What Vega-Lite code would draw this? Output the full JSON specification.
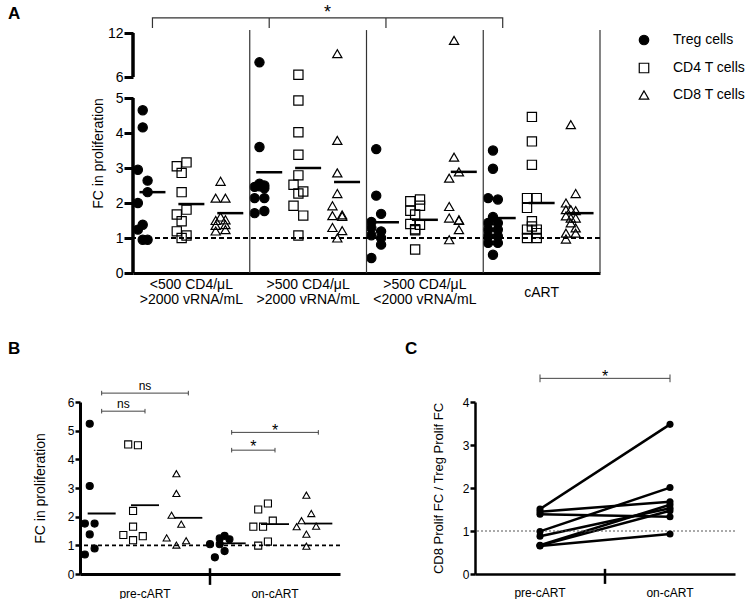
{
  "$schema": "https://vega.github.io/schema/vega-lite/v6.json",
  "background": "white",
  "padding": {"left": 8, "top": 3, "right": 0, "bottom": 0},
  "config": {
    "font": "Liberation Sans",
    "view": {"stroke": null},
    "axis": {"grid": false, "labelColor": "black", "titleColor": "black", "domainColor": "black", "tickColor": "black", "titleFontWeight": "normal", "labelFont": "Liberation Sans", "titleFont": "Liberation Sans", "labelOverlap": false},
    "legend": {"labelFont": "Liberation Sans", "labelColor": "black"},
    "title": {"font": "Liberation Sans", "color": "black"}
  },
  "resolve": {"scale": {"shape": "independent", "fill": "independent", "stroke": "independent"}, "legend": {"shape": "independent", "fill": "independent", "stroke": "independent"}},
  "datasets": {
    "pointsA": [
      {"slot": "G1 Treg", "cell": "Treg cells", "lane": 0, "v": 4.65},
      {"slot": "G1 Treg", "cell": "Treg cells", "lane": 0, "v": 4.16},
      {"slot": "G1 Treg", "cell": "Treg cells", "lane": -1, "v": 2.95},
      {"slot": "G1 Treg", "cell": "Treg cells", "lane": 1, "v": 2.64},
      {"slot": "G1 Treg", "cell": "Treg cells", "lane": 1, "v": 2.31},
      {"slot": "G1 Treg", "cell": "Treg cells", "lane": -1, "v": 2.0},
      {"slot": "G1 Treg", "cell": "Treg cells", "lane": 0, "v": 1.38},
      {"slot": "G1 Treg", "cell": "Treg cells", "lane": -1, "v": 1.24},
      {"slot": "G1 Treg", "cell": "Treg cells", "lane": 0, "v": 0.95},
      {"slot": "G1 Treg", "cell": "Treg cells", "lane": 1, "v": 0.95},
      {"slot": "G1 CD4", "cell": "CD4 T cells", "lane": -1, "v": 3.05},
      {"slot": "G1 CD4", "cell": "CD4 T cells", "lane": 1, "v": 3.16},
      {"slot": "G1 CD4", "cell": "CD4 T cells", "lane": 0, "v": 2.86},
      {"slot": "G1 CD4", "cell": "CD4 T cells", "lane": 0, "v": 2.31},
      {"slot": "G1 CD4", "cell": "CD4 T cells", "lane": 1, "v": 1.81},
      {"slot": "G1 CD4", "cell": "CD4 T cells", "lane": -1, "v": 1.67},
      {"slot": "G1 CD4", "cell": "CD4 T cells", "lane": 0, "v": 1.48},
      {"slot": "G1 CD4", "cell": "CD4 T cells", "lane": -1, "v": 1.19},
      {"slot": "G1 CD4", "cell": "CD4 T cells", "lane": 0, "v": 1.0},
      {"slot": "G1 CD4", "cell": "CD4 T cells", "lane": 1, "v": 1.07},
      {"slot": "G1 CD8", "cell": "CD8 T cells", "lane": 0, "v": 2.62},
      {"slot": "G1 CD8", "cell": "CD8 T cells", "lane": -1, "v": 2.14},
      {"slot": "G1 CD8", "cell": "CD8 T cells", "lane": 1, "v": 2.14},
      {"slot": "G1 CD8", "cell": "CD8 T cells", "lane": 0, "v": 1.6},
      {"slot": "G1 CD8", "cell": "CD8 T cells", "lane": -1, "v": 1.5},
      {"slot": "G1 CD8", "cell": "CD8 T cells", "lane": 1, "v": 1.52},
      {"slot": "G1 CD8", "cell": "CD8 T cells", "lane": -1, "v": 1.36},
      {"slot": "G1 CD8", "cell": "CD8 T cells", "lane": 1, "v": 1.38},
      {"slot": "G1 CD8", "cell": "CD8 T cells", "lane": -1, "v": 1.2},
      {"slot": "G1 CD8", "cell": "CD8 T cells", "lane": 1, "v": 1.24},
      {"slot": "G2 Treg", "cell": "Treg cells", "lane": 0, "v": 8.0},
      {"slot": "G2 Treg", "cell": "Treg cells", "lane": 0, "v": 3.6},
      {"slot": "G2 Treg", "cell": "Treg cells", "lane": -1, "v": 2.46},
      {"slot": "G2 Treg", "cell": "Treg cells", "lane": 0, "v": 2.55},
      {"slot": "G2 Treg", "cell": "Treg cells", "lane": 0, "v": 2.48},
      {"slot": "G2 Treg", "cell": "Treg cells", "lane": 1, "v": 2.5},
      {"slot": "G2 Treg", "cell": "Treg cells", "lane": 1, "v": 2.42},
      {"slot": "G2 Treg", "cell": "Treg cells", "lane": -1, "v": 2.14},
      {"slot": "G2 Treg", "cell": "Treg cells", "lane": 1, "v": 2.14},
      {"slot": "G2 Treg", "cell": "Treg cells", "lane": -1, "v": 1.71},
      {"slot": "G2 Treg", "cell": "Treg cells", "lane": 1, "v": 1.77},
      {"slot": "G2 CD4", "cell": "CD4 T cells", "lane": 0, "v": 6.31},
      {"slot": "G2 CD4", "cell": "CD4 T cells", "lane": 0, "v": 4.93},
      {"slot": "G2 CD4", "cell": "CD4 T cells", "lane": 0, "v": 4.02},
      {"slot": "G2 CD4", "cell": "CD4 T cells", "lane": 0, "v": 3.38},
      {"slot": "G2 CD4", "cell": "CD4 T cells", "lane": 0, "v": 2.79},
      {"slot": "G2 CD4", "cell": "CD4 T cells", "lane": -1, "v": 2.52},
      {"slot": "G2 CD4", "cell": "CD4 T cells", "lane": 1, "v": 2.33},
      {"slot": "G2 CD4", "cell": "CD4 T cells", "lane": 0, "v": 2.27},
      {"slot": "G2 CD4", "cell": "CD4 T cells", "lane": -1, "v": 1.92},
      {"slot": "G2 CD4", "cell": "CD4 T cells", "lane": 1, "v": 1.64},
      {"slot": "G2 CD4", "cell": "CD4 T cells", "lane": 0, "v": 1.07},
      {"slot": "G2 CD8", "cell": "CD8 T cells", "lane": 0, "v": 9.18},
      {"slot": "G2 CD8", "cell": "CD8 T cells", "lane": 0, "v": 3.79},
      {"slot": "G2 CD8", "cell": "CD8 T cells", "lane": 0, "v": 2.86},
      {"slot": "G2 CD8", "cell": "CD8 T cells", "lane": 0, "v": 2.27},
      {"slot": "G2 CD8", "cell": "CD8 T cells", "lane": -1, "v": 1.92},
      {"slot": "G2 CD8", "cell": "CD8 T cells", "lane": -1, "v": 1.64},
      {"slot": "G2 CD8", "cell": "CD8 T cells", "lane": 1, "v": 1.66},
      {"slot": "G2 CD8", "cell": "CD8 T cells", "lane": 1, "v": 1.62},
      {"slot": "G2 CD8", "cell": "CD8 T cells", "lane": -1, "v": 1.3},
      {"slot": "G2 CD8", "cell": "CD8 T cells", "lane": 1, "v": 1.21},
      {"slot": "G2 CD8", "cell": "CD8 T cells", "lane": 0, "v": 1.0},
      {"slot": "G3 Treg", "cell": "Treg cells", "lane": 0, "v": 3.54},
      {"slot": "G3 Treg", "cell": "Treg cells", "lane": 0, "v": 2.21},
      {"slot": "G3 Treg", "cell": "Treg cells", "lane": 1, "v": 1.69},
      {"slot": "G3 Treg", "cell": "Treg cells", "lane": -1, "v": 1.46},
      {"slot": "G3 Treg", "cell": "Treg cells", "lane": -1, "v": 1.29},
      {"slot": "G3 Treg", "cell": "Treg cells", "lane": -1, "v": 1.08},
      {"slot": "G3 Treg", "cell": "Treg cells", "lane": 1, "v": 1.19},
      {"slot": "G3 Treg", "cell": "Treg cells", "lane": 1, "v": 1.0},
      {"slot": "G3 Treg", "cell": "Treg cells", "lane": 1, "v": 0.81},
      {"slot": "G3 Treg", "cell": "Treg cells", "lane": -1, "v": 0.43},
      {"slot": "G3 CD4", "cell": "CD4 T cells", "lane": -1, "v": 2.05},
      {"slot": "G3 CD4", "cell": "CD4 T cells", "lane": 1, "v": 2.1},
      {"slot": "G3 CD4", "cell": "CD4 T cells", "lane": 1, "v": 1.92},
      {"slot": "G3 CD4", "cell": "CD4 T cells", "lane": -1, "v": 1.78},
      {"slot": "G3 CD4", "cell": "CD4 T cells", "lane": 0, "v": 1.67},
      {"slot": "G3 CD4", "cell": "CD4 T cells", "lane": -1, "v": 1.4},
      {"slot": "G3 CD4", "cell": "CD4 T cells", "lane": 1, "v": 1.38},
      {"slot": "G3 CD4", "cell": "CD4 T cells", "lane": 0, "v": 1.25},
      {"slot": "G3 CD4", "cell": "CD4 T cells", "lane": 0, "v": 1.22},
      {"slot": "G3 CD4", "cell": "CD4 T cells", "lane": 0, "v": 0.67},
      {"slot": "G3 CD8", "cell": "CD8 T cells", "lane": 0, "v": 11.0},
      {"slot": "G3 CD8", "cell": "CD8 T cells", "lane": 0, "v": 3.31},
      {"slot": "G3 CD8", "cell": "CD8 T cells", "lane": 1, "v": 2.89},
      {"slot": "G3 CD8", "cell": "CD8 T cells", "lane": -1, "v": 2.71},
      {"slot": "G3 CD8", "cell": "CD8 T cells", "lane": -1, "v": 1.9},
      {"slot": "G3 CD8", "cell": "CD8 T cells", "lane": -1, "v": 1.57},
      {"slot": "G3 CD8", "cell": "CD8 T cells", "lane": 1, "v": 1.52},
      {"slot": "G3 CD8", "cell": "CD8 T cells", "lane": 1, "v": 1.5},
      {"slot": "G3 CD8", "cell": "CD8 T cells", "lane": 1, "v": 1.24},
      {"slot": "G3 CD8", "cell": "CD8 T cells", "lane": -1, "v": 0.95},
      {"slot": "G4 Treg", "cell": "Treg cells", "lane": 0, "v": 3.5},
      {"slot": "G4 Treg", "cell": "Treg cells", "lane": 0, "v": 2.98},
      {"slot": "G4 Treg", "cell": "Treg cells", "lane": -1, "v": 2.14},
      {"slot": "G4 Treg", "cell": "Treg cells", "lane": 1, "v": 2.1},
      {"slot": "G4 Treg", "cell": "Treg cells", "lane": 0, "v": 1.6},
      {"slot": "G4 Treg", "cell": "Treg cells", "lane": -1, "v": 1.43},
      {"slot": "G4 Treg", "cell": "Treg cells", "lane": 1, "v": 1.43},
      {"slot": "G4 Treg", "cell": "Treg cells", "lane": -1, "v": 1.24},
      {"slot": "G4 Treg", "cell": "Treg cells", "lane": 1, "v": 1.24},
      {"slot": "G4 Treg", "cell": "Treg cells", "lane": -1, "v": 1.05},
      {"slot": "G4 Treg", "cell": "Treg cells", "lane": 1, "v": 1.05},
      {"slot": "G4 Treg", "cell": "Treg cells", "lane": -1, "v": 0.86},
      {"slot": "G4 Treg", "cell": "Treg cells", "lane": 1, "v": 0.86},
      {"slot": "G4 Treg", "cell": "Treg cells", "lane": 0, "v": 0.52},
      {"slot": "G4 CD4", "cell": "CD4 T cells", "lane": 0, "v": 4.46},
      {"slot": "G4 CD4", "cell": "CD4 T cells", "lane": 0, "v": 3.76},
      {"slot": "G4 CD4", "cell": "CD4 T cells", "lane": 0, "v": 3.09},
      {"slot": "G4 CD4", "cell": "CD4 T cells", "lane": -1, "v": 2.14},
      {"slot": "G4 CD4", "cell": "CD4 T cells", "lane": 1, "v": 2.14},
      {"slot": "G4 CD4", "cell": "CD4 T cells", "lane": -1, "v": 1.86},
      {"slot": "G4 CD4", "cell": "CD4 T cells", "lane": 0, "v": 1.48},
      {"slot": "G4 CD4", "cell": "CD4 T cells", "lane": 0, "v": 1.33},
      {"slot": "G4 CD4", "cell": "CD4 T cells", "lane": -1, "v": 1.24},
      {"slot": "G4 CD4", "cell": "CD4 T cells", "lane": 1, "v": 1.24},
      {"slot": "G4 CD4", "cell": "CD4 T cells", "lane": 1, "v": 1.14},
      {"slot": "G4 CD4", "cell": "CD4 T cells", "lane": -1, "v": 1.0},
      {"slot": "G4 CD4", "cell": "CD4 T cells", "lane": 1, "v": 1.0},
      {"slot": "G4 CD8", "cell": "CD8 T cells", "lane": 0, "v": 4.24},
      {"slot": "G4 CD8", "cell": "CD8 T cells", "lane": 1, "v": 2.27},
      {"slot": "G4 CD8", "cell": "CD8 T cells", "lane": -1, "v": 2.0},
      {"slot": "G4 CD8", "cell": "CD8 T cells", "lane": -1, "v": 1.81},
      {"slot": "G4 CD8", "cell": "CD8 T cells", "lane": 0, "v": 1.81},
      {"slot": "G4 CD8", "cell": "CD8 T cells", "lane": 1, "v": 1.78},
      {"slot": "G4 CD8", "cell": "CD8 T cells", "lane": -1, "v": 1.63},
      {"slot": "G4 CD8", "cell": "CD8 T cells", "lane": 0, "v": 1.57},
      {"slot": "G4 CD8", "cell": "CD8 T cells", "lane": 1, "v": 1.57},
      {"slot": "G4 CD8", "cell": "CD8 T cells", "lane": 0, "v": 1.43},
      {"slot": "G4 CD8", "cell": "CD8 T cells", "lane": 1, "v": 1.29},
      {"slot": "G4 CD8", "cell": "CD8 T cells", "lane": -1, "v": 1.14},
      {"slot": "G4 CD8", "cell": "CD8 T cells", "lane": 1, "v": 1.14},
      {"slot": "G4 CD8", "cell": "CD8 T cells", "lane": -1, "v": 0.97}
    ],
    "meansA": [
      {"slot": "G1 Treg", "v": 2.31}, {"slot": "G1 CD4", "v": 1.97}, {"slot": "G1 CD8", "v": 1.71},
      {"slot": "G2 Treg", "v": 2.88}, {"slot": "G2 CD4", "v": 3.0}, {"slot": "G2 CD8", "v": 2.6},
      {"slot": "G3 Treg", "v": 1.45}, {"slot": "G3 CD4", "v": 1.52}, {"slot": "G3 CD8", "v": 2.89},
      {"slot": "G4 Treg", "v": 1.57}, {"slot": "G4 CD4", "v": 2.0}, {"slot": "G4 CD8", "v": 1.71}
    ],
    "sepsA": [
      {"slot": "G1 CD8", "lo": 0, "hi": 12.4},
      {"slot": "G2 CD8", "lo": 0, "hi": 12.4},
      {"slot": "G3 CD8", "lo": 0, "hi": 12.4},
      {"slot": "G4 CD8", "lo": 0, "hi": 12.4}
    ],
    "yAxisA": [
      {"slot": "G1 Treg", "lo": 0, "hi": 5},
      {"slot": "G1 Treg", "lo": 6, "hi": 12}
    ],
    "bracketA": [
      {"slot": "G1 Treg", "v": 12.68, "o": 1},
      {"slot": "G1 Treg", "v": 14.05, "o": 2},
      {"slot": "G4 Treg", "v": 14.05, "o": 3},
      {"slot": "G4 Treg", "v": 12.68, "o": 4}
    ],
    "bracketTicksA": [
      {"slot": "G2 Treg", "lo": 12.68, "hi": 14.05},
      {"slot": "G3 Treg", "lo": 12.68, "hi": 14.05}
    ],
    "starA": [{"slot": "G2 CD8", "v": 14.1, "t": "*"}],
    "pointsB": [
      {"slot": "pre Treg", "cell": "Treg cells", "lane": 0, "v": 5.24},
      {"slot": "pre Treg", "cell": "Treg cells", "lane": 0, "v": 3.07},
      {"slot": "pre Treg", "cell": "Treg cells", "lane": -1, "v": 1.76},
      {"slot": "pre Treg", "cell": "Treg cells", "lane": 1, "v": 1.76},
      {"slot": "pre Treg", "cell": "Treg cells", "lane": 0, "v": 1.38},
      {"slot": "pre Treg", "cell": "Treg cells", "lane": 1, "v": 0.89},
      {"slot": "pre Treg", "cell": "Treg cells", "lane": -1, "v": 0.68},
      {"slot": "pre CD4", "cell": "CD4 T cells", "lane": -1, "v": 4.52},
      {"slot": "pre CD4", "cell": "CD4 T cells", "lane": 1, "v": 4.49},
      {"slot": "pre CD4", "cell": "CD4 T cells", "lane": 0, "v": 2.2},
      {"slot": "pre CD4", "cell": "CD4 T cells", "lane": 0, "v": 1.65},
      {"slot": "pre CD4", "cell": "CD4 T cells", "lane": -2, "v": 1.36},
      {"slot": "pre CD4", "cell": "CD4 T cells", "lane": 2, "v": 1.32},
      {"slot": "pre CD4", "cell": "CD4 T cells", "lane": 0, "v": 1.18},
      {"slot": "pre CD8", "cell": "CD8 T cells", "lane": 0, "v": 3.5},
      {"slot": "pre CD8", "cell": "CD8 T cells", "lane": 0, "v": 2.81},
      {"slot": "pre CD8", "cell": "CD8 T cells", "lane": -1, "v": 2.05},
      {"slot": "pre CD8", "cell": "CD8 T cells", "lane": 1, "v": 1.74},
      {"slot": "pre CD8", "cell": "CD8 T cells", "lane": -2, "v": 1.26},
      {"slot": "pre CD8", "cell": "CD8 T cells", "lane": 2, "v": 1.16},
      {"slot": "pre CD8", "cell": "CD8 T cells", "lane": 0, "v": 1.01},
      {"slot": "on Treg", "cell": "Treg cells", "lane": 1, "v": 1.33},
      {"slot": "on Treg", "cell": "Treg cells", "lane": 2, "v": 1.21},
      {"slot": "on Treg", "cell": "Treg cells", "lane": 0, "v": 1.24},
      {"slot": "on Treg", "cell": "Treg cells", "lane": -2, "v": 1.04},
      {"slot": "on Treg", "cell": "Treg cells", "lane": 0, "v": 1.04},
      {"slot": "on Treg", "cell": "Treg cells", "lane": 1, "v": 0.8},
      {"slot": "on Treg", "cell": "Treg cells", "lane": -1, "v": 0.58},
      {"slot": "on CD4", "cell": "CD4 T cells", "lane": 1, "v": 2.46},
      {"slot": "on CD4", "cell": "CD4 T cells", "lane": -1, "v": 2.25},
      {"slot": "on CD4", "cell": "CD4 T cells", "lane": 2, "v": 1.86},
      {"slot": "on CD4", "cell": "CD4 T cells", "lane": -2, "v": 1.65},
      {"slot": "on CD4", "cell": "CD4 T cells", "lane": 0, "v": 1.65},
      {"slot": "on CD4", "cell": "CD4 T cells", "lane": 1, "v": 1.13},
      {"slot": "on CD4", "cell": "CD4 T cells", "lane": -1, "v": 0.99},
      {"slot": "on CD8", "cell": "CD8 T cells", "lane": 0, "v": 2.75},
      {"slot": "on CD8", "cell": "CD8 T cells", "lane": 1, "v": 2.11},
      {"slot": "on CD8", "cell": "CD8 T cells", "lane": -1, "v": 1.86},
      {"slot": "on CD8", "cell": "CD8 T cells", "lane": -2, "v": 1.65},
      {"slot": "on CD8", "cell": "CD8 T cells", "lane": 2, "v": 1.67},
      {"slot": "on CD8", "cell": "CD8 T cells", "lane": 0, "v": 1.39},
      {"slot": "on CD8", "cell": "CD8 T cells", "lane": 0, "v": 0.97}
    ],
    "meansB": [
      {"slot": "pre Treg", "v": 2.11}, {"slot": "pre CD4", "v": 2.4}, {"slot": "pre CD8", "v": 1.96},
      {"slot": "on Treg", "v": 1.07}, {"slot": "on CD4", "v": 1.74}, {"slot": "on CD8", "v": 1.76}
    ],
    "tickB": [{"slot": "on Treg", "lo": -0.38, "hi": 0.2}],
    "bracketsB": [
      {"id": 1, "slot": "pre Treg", "v": 5.68}, {"id": 1, "slot": "pre CD4", "v": 5.68},
      {"id": 2, "slot": "pre Treg", "v": 6.31}, {"id": 2, "slot": "pre CD8", "v": 6.31},
      {"id": 3, "slot": "on Treg", "v": 4.32}, {"id": 3, "slot": "on CD4", "v": 4.32},
      {"id": 4, "slot": "on Treg", "v": 4.94}, {"id": 4, "slot": "on CD8", "v": 4.94}
    ],
    "capsB": [
      {"slot": "pre Treg", "lo": 5.6, "hi": 5.76}, {"slot": "pre CD4", "lo": 5.6, "hi": 5.76},
      {"slot": "pre Treg", "lo": 6.23, "hi": 6.39}, {"slot": "pre CD8", "lo": 6.23, "hi": 6.39},
      {"slot": "on Treg", "lo": 4.24, "hi": 4.4}, {"slot": "on CD4", "lo": 4.24, "hi": 4.4},
      {"slot": "on Treg", "lo": 4.86, "hi": 5.02}, {"slot": "on CD8", "lo": 4.86, "hi": 5.02}
    ],
    "textB0": [{"slot": "pre CD4", "v": 5.8, "t": "ns"}, {"slot": "on CD4", "v": 4.24, "t": "*"}],
    "textB1": [{"slot": "pre CD4", "v": 6.43, "t": "ns"}, {"slot": "on CD4", "v": 4.8, "t": "*"}],
    "pairsC": [
      {"pair": 1, "phase": "pre-cART", "v": 1.51}, {"pair": 1, "phase": "on-cART", "v": 3.48},
      {"pair": 2, "phase": "pre-cART", "v": 1.45}, {"pair": 2, "phase": "on-cART", "v": 1.68},
      {"pair": 3, "phase": "pre-cART", "v": 1.39}, {"pair": 3, "phase": "on-cART", "v": 1.33},
      {"pair": 4, "phase": "pre-cART", "v": 0.99}, {"pair": 4, "phase": "on-cART", "v": 2.01},
      {"pair": 5, "phase": "pre-cART", "v": 0.88}, {"pair": 5, "phase": "on-cART", "v": 1.53},
      {"pair": 6, "phase": "pre-cART", "v": 0.67}, {"pair": 6, "phase": "on-cART", "v": 1.61},
      {"pair": 7, "phase": "pre-cART", "v": 0.66}, {"pair": 7, "phase": "on-cART", "v": 1.47},
      {"pair": 8, "phase": "pre-cART", "v": 0.65}, {"pair": 8, "phase": "on-cART", "v": 0.93}
    ],
    "tickC": [{"phase": "on-cART", "lo": -0.23, "hi": 0.12}],
    "bracketC": [{"phase": "pre-cART", "v": 4.55}, {"phase": "on-cART", "v": 4.55}],
    "capsC": [{"phase": "pre-cART", "lo": 4.46, "hi": 4.64}, {"phase": "on-cART", "lo": 4.46, "hi": 4.64}],
    "starC": [{"phase": "on-cART", "v": 4.47, "t": "*"}]
  },
  "spacing": 33,
  "vconcat": [
    {
      "bounds": "flush",
      "spacing": 52,
      "resolve": {"scale": {"shape": "independent", "fill": "independent", "stroke": "independent"}, "legend": {"shape": "independent", "fill": "independent", "stroke": "independent"}},
      "hconcat": [
        {
          "width": 1,
          "height": 240,
          "title": {"text": "A", "anchor": "start", "frame": "group", "orient": "top", "offset": 0, "dx": -72, "dy": 3, "fontSize": 17, "fontWeight": "bold", "baseline": "alphabetic"},
          "data": {"values": []},
          "mark": {"type": "point", "opacity": 0},
          "encoding": {}
        },
        {
          "width": 467,
          "height": 240,
          "layer": [
            {
              "data": {"name": "pointsA"},
              "mark": {"type": "point", "filled": true, "strokeWidth": 1.2, "opacity": 1, "size": 85},
              "encoding": {
                "x": {
                  "field": "slot", "type": "nominal", "title": null,
                  "scale": {"domain": ["G1 Treg","G1 CD4","G1 CD8","G2 Treg","G2 CD4","G2 CD8","G3 Treg","G3 CD4","G3 CD8","G4 Treg","G4 CD4","G4 CD8"], "paddingInner": 0, "paddingOuter": 0},
                  "axis": {
                    "title": null, "bandPosition": 0.5, "domain": true, "domainWidth": 3, "domainColor": "black", "ticks": false, "tickSize": 0,
                    "labelAngle": 0, "labelFontSize": 14, "labelLineHeight": 15, "labelOverlap": false, "labelAlign": "center",
                    "labelPadding": {"condition": {"test": "datum.value === 'G4 CD4'", "value": 12}, "value": 4},
                    "labelExpr": "datum.value === 'G1 CD4' ? ['<500 CD4/μL', '>2000 vRNA/mL'] : datum.value === 'G2 CD4' ? ['>500 CD4/μL', '>2000 vRNA/mL'] : datum.value === 'G3 CD4' ? ['>500 CD4/μL', '<2000 vRNA/mL'] : datum.value === 'G4 CD4' ? 'cART' : ''"
                  }
                },
                "xOffset": {"field": "lane", "type": "nominal", "scale": {"domain": [-2, -1, 0, 1, 2], "paddingInner": 0, "paddingOuter": 0}},
                "y": {
                  "field": "v", "type": "quantitative",
                  "scale": {"domain": [0, 5, 6, 12], "range": [240, 65, 44, 0], "nice": false, "zero": false},
                  "axis": {"values": [0, 1, 2, 3, 4, 5, 6, 12], "tickCount": 20, "format": "d", "labelOverlap": false, "domain": false, "tickSize": 9, "tickWidth": 3, "labelFontSize": 14, "labelPadding": 1, "title": "FC in proliferation", "titleFontSize": 14, "titlePadding": 2}
                },
                "shape": {"field": "cell", "type": "nominal", "scale": {"domain": ["Treg cells", "CD4 T cells", "CD8 T cells"], "range": ["circle", "square", "triangle-up"]},
                  "legend": {"title": null, "orient": "right", "offset": 37, "padding": 0, "symbolSize": 90, "symbolStrokeWidth": 1.2, "labelFontSize": 14, "labelOffset": 22, "rowPadding": 12}},
                "fill": {"field": "cell", "type": "nominal", "scale": {"domain": ["Treg cells", "CD4 T cells", "CD8 T cells"], "range": ["black", "transparent", "transparent"]},
                  "legend": {"title": null, "orient": "right", "offset": 37, "padding": 0, "symbolSize": 90, "symbolStrokeWidth": 1.2, "labelFontSize": 14, "labelOffset": 22, "rowPadding": 12}},
                "stroke": {"field": "cell", "type": "nominal", "scale": {"domain": ["Treg cells", "CD4 T cells", "CD8 T cells"], "range": ["black", "black", "black"]},
                  "legend": {"title": null, "orient": "right", "offset": 37, "padding": 0, "symbolSize": 90, "symbolStrokeWidth": 1.2, "labelFontSize": 14, "labelOffset": 22, "rowPadding": 12}}
              }
            },
            {
              "data": {"name": "sepsA"},
              "mark": {"type": "rule", "color": "#333333", "strokeWidth": 1.2},
              "encoding": {
                "x": {"field": "slot", "type": "nominal", "bandPosition": 1, "title": null},
                "y": {"field": "lo", "type": "quantitative"},
                "y2": {"field": "hi"}
              }
            },
            {
              "data": {"name": "yAxisA"},
              "mark": {"type": "rule", "color": "black", "strokeWidth": 3.5},
              "encoding": {
                "x": {"field": "slot", "type": "nominal", "bandPosition": 0, "title": null},
                "y": {"field": "lo", "type": "quantitative"},
                "y2": {"field": "hi"}
              }
            },
            {
              "data": {"values": [{"v": 1}]},
              "mark": {"type": "rule", "color": "black", "strokeWidth": 2, "strokeDash": [5, 3]},
              "encoding": {"y": {"field": "v", "type": "quantitative"}}
            },
            {
              "data": {"name": "meansA"},
              "mark": {"type": "tick", "orient": "horizontal", "thickness": 2.5, "size": 26, "color": "black", "opacity": 1},
              "encoding": {
                "x": {"field": "slot", "type": "nominal", "title": null},
                "y": {"field": "v", "type": "quantitative"}
              }
            },
            {
              "data": {"name": "bracketA"},
              "mark": {"type": "line", "color": "#333333", "strokeWidth": 1.2},
              "encoding": {
                "x": {"field": "slot", "type": "nominal", "title": null},
                "y": {"field": "v", "type": "quantitative"},
                "order": {"field": "o", "type": "quantitative"}
              }
            },
            {
              "data": {"name": "bracketTicksA"},
              "mark": {"type": "rule", "color": "#333333", "strokeWidth": 1.2},
              "encoding": {
                "x": {"field": "slot", "type": "nominal", "title": null},
                "y": {"field": "lo", "type": "quantitative"},
                "y2": {"field": "hi"}
              }
            },
            {
              "data": {"name": "starA"},
              "mark": {"type": "text", "fontSize": 18, "baseline": "alphabetic", "align": "center", "color": "black"},
              "encoding": {
                "x": {"field": "slot", "type": "nominal", "bandPosition": 0, "title": null},
                "y": {"field": "v", "type": "quantitative"},
                "text": {"field": "t", "type": "nominal"}
              }
            }
          ]
        }
      ]
    },
    {
      "bounds": "flush",
      "spacing": 135,
      "resolve": {"scale": {"shape": "independent", "fill": "independent", "stroke": "independent"}, "legend": {"shape": "independent", "fill": "independent", "stroke": "independent"}},
      "hconcat": [
        {
          "width": 260,
          "height": 172,
          "title": {"text": "B", "anchor": "start", "frame": "group", "orient": "top", "offset": 0, "dx": -72, "dy": -9, "fontSize": 17, "fontWeight": "bold", "baseline": "alphabetic"},
          "layer": [
            {
              "data": {"name": "pointsB"},
              "mark": {"type": "point", "filled": true, "stroke": "black", "strokeWidth": 1.1, "opacity": 1, "size": 50},
              "encoding": {
                "x": {
                  "field": "slot", "type": "nominal", "title": null,
                  "scale": {"domain": ["pre Treg","pre CD4","pre CD8","on Treg","on CD4","on CD8"], "paddingInner": 0, "paddingOuter": 0},
                  "axis": {"title": null, "bandPosition": 0.5, "domainWidth": 3, "ticks": false, "tickSize": 0, "labelAngle": 0, "labelFontSize": 12, "labelPadding": 14, "labelOverlap": false, "labelAlign": "center",
                    "labelExpr": "datum.value === 'pre CD4' ? 'pre-cART' : datum.value === 'on CD4' ? 'on-cART' : ''"}
                },
                "xOffset": {"field": "lane", "type": "nominal", "scale": {"domain": [-4, -3, -2, -1, 0, 1, 2, 3, 4], "paddingInner": 0, "paddingOuter": 0}},
                "y": {
                  "field": "v", "type": "quantitative",
                  "scale": {"domain": [0, 6], "nice": false},
                  "axis": {"values": [0, 1, 2, 3, 4, 5, 6], "tickCount": 20, "format": "d", "labelOverlap": false, "domainWidth": 3, "tickSize": 5, "tickWidth": 2.5, "labelFontSize": 12, "labelPadding": 1, "title": "FC in proliferation", "titleFontSize": 14, "titlePadding": 20}
                },
                "shape": {"field": "cell", "type": "nominal", "scale": {"domain": ["Treg cells", "CD4 T cells", "CD8 T cells"], "range": ["circle", "square", "triangle-up"]}, "legend": null},
                "fill": {"field": "cell", "type": "nominal", "scale": {"domain": ["Treg cells", "CD4 T cells", "CD8 T cells"], "range": ["black", "transparent", "transparent"]}, "legend": null}
              }
            },
            {
              "data": {"values": [{"v": 1}]},
              "mark": {"type": "rule", "color": "black", "strokeWidth": 1.6, "strokeDash": [4, 3]},
              "encoding": {"y": {"field": "v", "type": "quantitative"}}
            },
            {
              "data": {"name": "tickB"},
              "mark": {"type": "rule", "color": "black", "strokeWidth": 2.5},
              "encoding": {
                "x": {"field": "slot", "type": "nominal", "bandPosition": 0, "title": null},
                "y": {"field": "lo", "type": "quantitative"},
                "y2": {"field": "hi"}
              }
            },
            {
              "data": {"name": "meansB"},
              "mark": {"type": "tick", "orient": "horizontal", "thickness": 1.8, "size": 28, "color": "black", "opacity": 1},
              "encoding": {
                "x": {"field": "slot", "type": "nominal", "title": null},
                "y": {"field": "v", "type": "quantitative"}
              }
            },
            {
              "data": {"name": "bracketsB"},
              "mark": {"type": "line", "color": "#444444", "strokeWidth": 1},
              "encoding": {
                "x": {"field": "slot", "type": "nominal", "title": null},
                "y": {"field": "v", "type": "quantitative"},
                "detail": {"field": "id", "type": "nominal"}
              }
            },
            {
              "data": {"name": "capsB"},
              "mark": {"type": "rule", "color": "#444444", "strokeWidth": 1},
              "encoding": {
                "x": {"field": "slot", "type": "nominal", "title": null},
                "y": {"field": "lo", "type": "quantitative"},
                "y2": {"field": "hi"}
              }
            },
            {
              "data": {"name": "textB0"},
              "transform": [{"filter": "datum.t === 'ns'"}],
              "mark": {"type": "text", "baseline": "alphabetic", "align": "center", "color": "black", "fontSize": 12},
              "encoding": {
                "x": {"field": "slot", "type": "nominal", "bandPosition": 0, "title": null},
                "y": {"field": "v", "type": "quantitative"},
                "text": {"field": "t", "type": "nominal"}
              }
            },
            {
              "data": {"name": "textB0"},
              "transform": [{"filter": "datum.t === '*'"}],
              "mark": {"type": "text", "baseline": "alphabetic", "align": "center", "color": "black", "fontSize": 16},
              "encoding": {
                "x": {"field": "slot", "type": "nominal", "bandPosition": 0, "title": null},
                "y": {"field": "v", "type": "quantitative"},
                "text": {"field": "t", "type": "nominal"}
              }
            },
            {
              "data": {"name": "textB1"},
              "transform": [{"filter": "datum.t === 'ns'"}],
              "mark": {"type": "text", "baseline": "alphabetic", "align": "center", "color": "black", "fontSize": 12},
              "encoding": {
                "x": {"field": "slot", "type": "nominal", "bandPosition": 0.5, "title": null},
                "y": {"field": "v", "type": "quantitative"},
                "text": {"field": "t", "type": "nominal"}
              }
            },
            {
              "data": {"name": "textB1"},
              "transform": [{"filter": "datum.t === '*'"}],
              "mark": {"type": "text", "baseline": "alphabetic", "align": "center", "color": "black", "fontSize": 16},
              "encoding": {
                "x": {"field": "slot", "type": "nominal", "bandPosition": 0.5, "title": null},
                "y": {"field": "v", "type": "quantitative"},
                "text": {"field": "t", "type": "nominal"}
              }
            }
          ]
        },
        {
          "width": 260,
          "height": 172,
          "title": {"text": "C", "anchor": "start", "frame": "group", "orient": "top", "offset": 0, "dx": -70, "dy": 2, "fontSize": 17, "fontWeight": "bold", "baseline": "alphabetic"},
          "layer": [
            {
              "data": {"name": "pairsC"},
              "mark": {"type": "line", "color": "black", "strokeWidth": 2.5},
              "encoding": {
                "x": {"field": "phase", "type": "nominal", "title": null,
                  "scale": {"domain": ["pre-cART", "on-cART"], "paddingInner": 0, "paddingOuter": 0},
                  "axis": {"title": null, "bandPosition": 0.5, "domainWidth": 2.5, "ticks": false, "tickSize": 0, "labelAngle": 0, "labelFontSize": 12, "labelPadding": 13, "labelOverlap": false, "labelAlign": "center"}},
                "y": {"field": "v", "type": "quantitative",
                  "scale": {"domain": [0, 4], "nice": false},
                  "axis": {"values": [0, 1, 2, 3, 4], "tickCount": 20, "format": "d", "labelOverlap": false, "domainWidth": 2.5, "tickSize": 5, "tickWidth": 2.5, "labelFontSize": 12, "labelPadding": 1, "title": "CD8 Prolif FC / Treg Prolif FC", "titleFontSize": 13, "titlePadding": 17}},
                "detail": {"field": "pair", "type": "nominal"}
              }
            },
            {
              "data": {"values": [{"v": 1}]},
              "mark": {"type": "rule", "color": "#555555", "strokeWidth": 1, "strokeDash": [2, 2]},
              "encoding": {"y": {"field": "v", "type": "quantitative"}}
            },
            {
              "data": {"name": "tickC"},
              "mark": {"type": "rule", "color": "black", "strokeWidth": 2.5},
              "encoding": {
                "x": {"field": "phase", "type": "nominal", "bandPosition": 0, "title": null},
                "y": {"field": "lo", "type": "quantitative"},
                "y2": {"field": "hi"}
              }
            },
            {
              "data": {"name": "pairsC"},
              "mark": {"type": "point", "shape": "circle", "filled": true, "color": "black", "size": 50, "opacity": 1},
              "encoding": {
                "x": {"field": "phase", "type": "nominal", "title": null},
                "y": {"field": "v", "type": "quantitative"}
              }
            },
            {
              "data": {"name": "bracketC"},
              "mark": {"type": "line", "color": "#444444", "strokeWidth": 1},
              "encoding": {
                "x": {"field": "phase", "type": "nominal", "title": null},
                "y": {"field": "v", "type": "quantitative"}
              }
            },
            {
              "data": {"name": "capsC"},
              "mark": {"type": "rule", "color": "#444444", "strokeWidth": 1},
              "encoding": {
                "x": {"field": "phase", "type": "nominal", "title": null},
                "y": {"field": "lo", "type": "quantitative"},
                "y2": {"field": "hi"}
              }
            },
            {
              "data": {"name": "starC"},
              "mark": {"type": "text", "fontSize": 16, "baseline": "alphabetic", "align": "center", "color": "black"},
              "encoding": {
                "x": {"field": "phase", "type": "nominal", "bandPosition": 0, "title": null},
                "y": {"field": "v", "type": "quantitative"},
                "text": {"field": "t", "type": "nominal"}
              }
            }
          ]
        }
      ]
    }
  ]
}
